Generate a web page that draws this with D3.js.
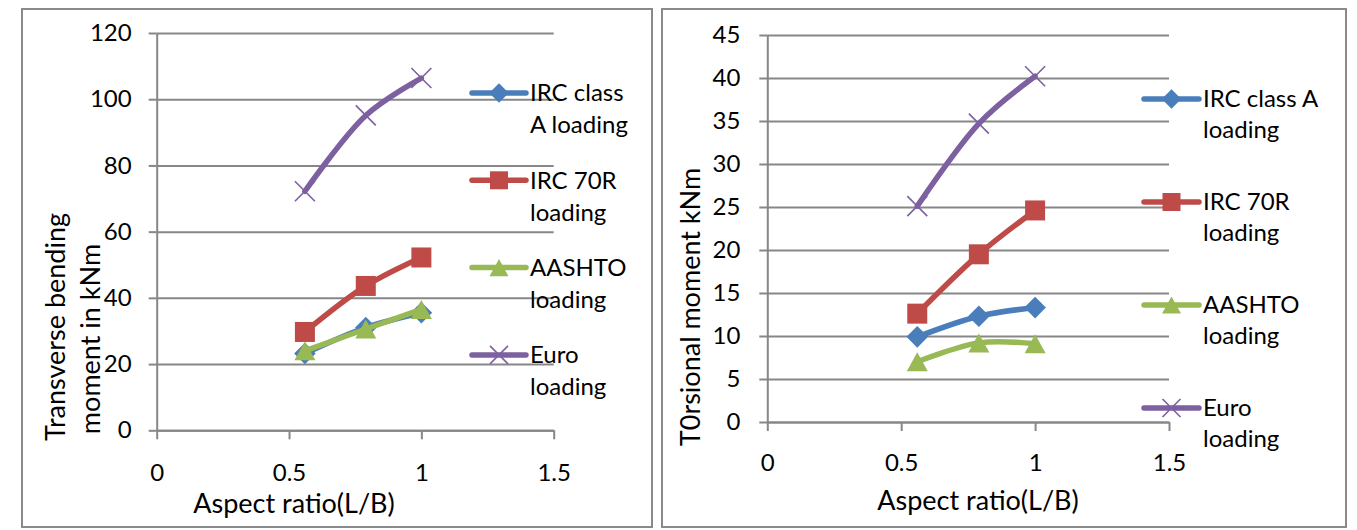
<!DOCTYPE html>
<html>
<head>
<meta charset="utf-8">
<script src="https://cdn.jsdelivr.net/npm/d3@7"></script>
<style>
  html, body { margin: 0; padding: 0; background: #fff; }
  svg { display: block; }
  text { font-family: Lato, "Open Sans", sans-serif; fill: #000; }
</style>
</head>
<body>
<svg id="chart" width="1357" height="530"></svg>
<script>
// ---------- data ----------
const xValues = [0.56, 0.79, 1.0];
const xTicks = [0, 0.5, 1, 1.5];
const seriesNames = ["IRC class A loading", "IRC 70R loading", "AASHTO loading", "Euro loading"];

// Transverse bending moment (kNm)
const bendIrcA   = [23.2, 31.0, 35.5];
const bendIrc70R = [29.7, 43.6, 52.2];
const bendAashto = [24.0, 30.6, 36.5];
const bendEuro   = [72.2, 95.1, 106.4];
const bendTicks  = [0, 20, 40, 60, 80, 100, 120];

// Torsional moment (kNm)
const torsIrcA   = [9.9, 12.3, 13.3];
const torsIrc70R = [12.6, 19.5, 24.6];
const torsAashto = [7.0, 9.2, 9.1];
const torsEuro   = [25.1, 34.7, 40.2];
const torsTicks  = [0, 5, 10, 15, 20, 25, 30, 35, 40, 45];

const leftLegendLines  = [["IRC class", "A loading"], ["IRC 70R", "loading"], ["AASHTO", "loading"], ["Euro", "loading"]];
const rightLegendLines = [["IRC class A", "loading"], ["IRC 70R", "loading"], ["AASHTO", "loading"], ["Euro", "loading"]];

// ---------- styles ----------
const colors  = ["#4A7EBB", "#BE4B48", "#98B954", "#7D60A0"];
const markers = ["diamond", "square", "triangle", "cross"];
const gridColor = "#878787";

const svg = d3.select("#chart");

function markerPath(type, s) {
  const p = d3.path();
  const h = s / 2;
  if (type === "diamond") {
    const d = h * 1.08;
    p.moveTo(0, -d); p.lineTo(d, 0); p.lineTo(0, d); p.lineTo(-d, 0); p.closePath();
  } else if (type === "square") {
    p.rect(-h, -h, h * 2, h * 2);
  } else if (type === "triangle") {
    p.moveTo(0, -h * 0.95); p.lineTo(h * 1.05, h * 0.95); p.lineTo(-h * 1.05, h * 0.95); p.closePath();
  } else {
    p.moveTo(-h, -h); p.lineTo(h, h); p.moveTo(-h, h); p.lineTo(h, -h);
  }
  return p.toString();
}

function drawMarker(g, type, color, x, y, s) {
  const m = g.append("path")
    .attr("transform", `translate(${x},${y})`)
    .attr("d", markerPath(type, s));
  if (type === "cross") m.attr("fill", "none").attr("stroke", color).attr("stroke-width", 1.6);
  else m.attr("fill", color).attr("stroke", "none");
}

function drawChart(cfg) {
  const g = svg.append("g");
  // frame
  g.append("rect")
    .attr("x", cfg.frame[0]).attr("y", cfg.frame[1])
    .attr("width", cfg.frame[2]).attr("height", cfg.frame[3])
    .attr("fill", "none").attr("stroke", "#8a8a8a").attr("stroke-width", 2);

  const x = d3.scaleLinear().domain([0, 1.5]).range([cfg.px0, cfg.px1]);
  const y = d3.scaleLinear().domain([0, d3.max(cfg.yTicks)]).range([cfg.py1, cfg.py0]);
  const w = cfg.px1 - cfg.px0;

  // gridlines
  const grid = g.append("g").attr("transform", `translate(${cfg.px0},0)`)
    .call(d3.axisLeft(y).tickValues(cfg.yTicks).tickSize(-w).tickFormat(""));
  grid.select(".domain").remove();
  grid.selectAll("line").attr("stroke", gridColor).attr("stroke-width", 2);

  // y axis
  const ya = g.append("g").attr("transform", `translate(${cfg.px0},0)`)
    .call(d3.axisLeft(y).tickValues(cfg.yTicks).tickSize(8).tickSizeOuter(0).tickPadding(cfg.yPad));
  ya.select(".domain").attr("stroke", gridColor).attr("stroke-width", 2);
  ya.selectAll("line").attr("stroke", gridColor).attr("stroke-width", 2);
  ya.selectAll("text").attr("font-size", 24).attr("font-family", "Lato").attr("fill", "#000");

  // x axis
  const xa = g.append("g").attr("transform", `translate(0,${cfg.py1})`)
    .call(d3.axisBottom(x).tickValues(xTicks).tickSize(9).tickSizeOuter(0).tickFormat(d3.format("")));
  xa.select(".domain").attr("stroke", gridColor).attr("stroke-width", 2);
  xa.selectAll("line").attr("stroke", gridColor).attr("stroke-width", 2);
  xa.selectAll("text").attr("font-size", 24).attr("font-family", "Lato").attr("fill", "#000")
    .attr("y", cfg.xLabOff).attr("dy", "0.35em");

  // axis titles
  g.append("text").attr("x", cfg.xTitle[0]).attr("y", cfg.xTitle[1])
    .attr("text-anchor", "middle").attr("font-size", 27).text("Aspect ratio(L/B)");
  cfg.yTitle.forEach(t => {
    g.append("text")
      .attr("transform", `translate(${t.x},${t.y}) rotate(-90)`)
      .attr("text-anchor", "middle").attr("font-size", 27).text(t.text);
  });

  // series
  const line = d3.line().x((d, i) => x(xValues[i])).y(d => y(d)).curve(d3.curveCatmullRom.alpha(0.5));
  cfg.series.forEach((vals, si) => {
    g.append("path").attr("d", line(vals)).attr("fill", "none")
      .attr("stroke", colors[si]).attr("stroke-width", 5.5)
      .attr("stroke-linejoin", "round").attr("stroke-linecap", "round");
    vals.forEach((v, i) => drawMarker(g, markers[si], colors[si], x(xValues[i]), y(v), 20));
  });

  // legend
  cfg.legendLines.forEach((lines, si) => {
    const ly = cfg.legY0 + si * cfg.legStep;
    g.append("line").attr("x1", cfg.legX0).attr("x2", cfg.legX1).attr("y1", ly).attr("y2", ly)
      .attr("stroke", colors[si]).attr("stroke-width", 5.5).attr("stroke-linecap", "round");
    drawMarker(g, markers[si], colors[si], (cfg.legX0 + cfg.legX1) / 2, ly, 18);
    lines.forEach((t, li) => {
      g.append("text").attr("x", cfg.legX1 + 4).attr("y", ly + li * cfg.legLine)
        .attr("dy", "0.35em").attr("font-size", 24).text(t);
    });
  });
}

drawChart({
  frame: [22, 9, 630, 518],
  px0: 156.7, px1: 553.7, py0: 33, py1: 430.3,
  yTicks: bendTicks, yPad: 17, xLabOff: 42,
  xTitle: [294, 513],
  yTitle: [{ x: 65, y: 327, text: "Transverse bending" }, { x: 100, y: 339, text: "moment in kNm" }],
  series: [bendIrcA, bendIrc70R, bendAashto, bendEuro],
  legendLines: leftLegendLines,
  legY0: 93, legStep: 87.3, legLine: 32, legX0: 472, legX1: 526
});

drawChart({
  frame: [662, 9, 684, 518],
  px0: 767.3, px1: 1169, py0: 35, py1: 422,
  yTicks: torsTicks, yPad: 19, xLabOff: 41,
  xTitle: [978, 510],
  yTitle: [{ x: 700, y: 307, text: "T0rsional moment kNm" }],
  series: [torsIrcA, torsIrc70R, torsAashto, torsEuro],
  legendLines: rightLegendLines,
  legY0: 99, legStep: 103, legLine: 31, legX0: 1144, legX1: 1199
});
</script>
</body>
</html>
